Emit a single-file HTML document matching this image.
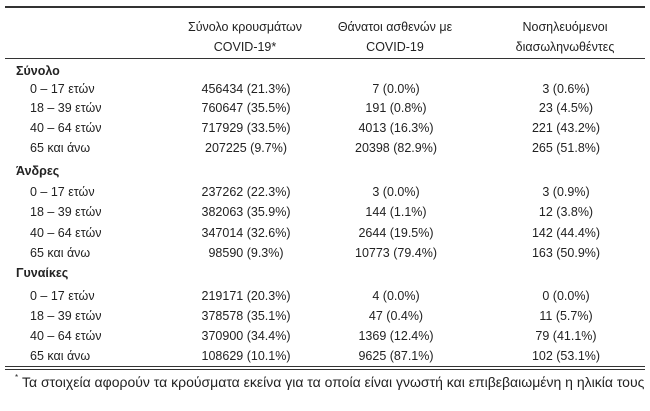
<!DOCTYPE html>
<html><head><meta charset="utf-8"><style>
body{margin:0;width:650px;height:411px;background:#fff;font-family:"Liberation Sans","DejaVu Sans",sans-serif;color:#222;position:relative;overflow:hidden}
.t{position:absolute;font-size:12.5px;white-space:nowrap;line-height:14px}
.c{transform:translateX(-50%);text-align:center}
.b{font-weight:bold}
.ln{position:absolute;left:5px;width:640px;background:#333}
</style></head><body>
<div class="ln" style="top:6px;height:2px"></div>
<div class="t c" style="left:245px;top:17px;line-height:20px">Σύνολο κρουσμάτων<br>COVID-19*</div>
<div class="t c" style="left:395px;top:17px;line-height:20px">Θάνατοι ασθενών με<br>COVID-19</div>
<div class="t c" style="left:565px;top:17px;line-height:20px">Νοσηλευόμενοι<br>διασωληνωθέντες</div>
<div class="ln" style="top:58px;height:1px"></div>

<div class="t b" style="left:16px;top:64px">Σύνολο</div>
<div class="t" style="left:30px;top:82px">0 – 17 ετών</div><div class="t c" style="left:246px;top:82px">456434 (21.3%)</div><div class="t c" style="left:396px;top:82px">7 (0.0%)</div><div class="t c" style="left:566px;top:82px">3 (0.6%)</div>
<div class="t" style="left:30px;top:101px">18 – 39 ετών</div><div class="t c" style="left:246px;top:101px">760647 (35.5%)</div><div class="t c" style="left:396px;top:101px">191 (0.8%)</div><div class="t c" style="left:566px;top:101px">23 (4.5%)</div>
<div class="t" style="left:30px;top:121px">40 – 64 ετών</div><div class="t c" style="left:246px;top:121px">717929 (33.5%)</div><div class="t c" style="left:396px;top:121px">4013 (16.3%)</div><div class="t c" style="left:566px;top:121px">221 (43.2%)</div>
<div class="t" style="left:30px;top:141px">65 και άνω</div><div class="t c" style="left:246px;top:141px">207225 (9.7%)</div><div class="t c" style="left:396px;top:141px">20398 (82.9%)</div><div class="t c" style="left:566px;top:141px">265 (51.8%)</div>

<div class="t b" style="left:16px;top:164px">Άνδρες</div>
<div class="t" style="left:30px;top:185px">0 – 17 ετών</div><div class="t c" style="left:246px;top:185px">237262 (22.3%)</div><div class="t c" style="left:396px;top:185px">3 (0.0%)</div><div class="t c" style="left:566px;top:185px">3 (0.9%)</div>
<div class="t" style="left:30px;top:205px">18 – 39 ετών</div><div class="t c" style="left:246px;top:205px">382063 (35.9%)</div><div class="t c" style="left:396px;top:205px">144 (1.1%)</div><div class="t c" style="left:566px;top:205px">12 (3.8%)</div>
<div class="t" style="left:30px;top:226px">40 – 64 ετών</div><div class="t c" style="left:246px;top:226px">347014 (32.6%)</div><div class="t c" style="left:396px;top:226px">2644 (19.5%)</div><div class="t c" style="left:566px;top:226px">142 (44.4%)</div>
<div class="t" style="left:30px;top:246px">65 και άνω</div><div class="t c" style="left:246px;top:246px">98590 (9.3%)</div><div class="t c" style="left:396px;top:246px">10773 (79.4%)</div><div class="t c" style="left:566px;top:246px">163 (50.9%)</div>

<div class="t b" style="left:16px;top:266px">Γυναίκες</div>
<div class="t" style="left:30px;top:289px">0 – 17 ετών</div><div class="t c" style="left:246px;top:289px">219171 (20.3%)</div><div class="t c" style="left:396px;top:289px">4 (0.0%)</div><div class="t c" style="left:566px;top:289px">0 (0.0%)</div>
<div class="t" style="left:30px;top:309px">18 – 39 ετών</div><div class="t c" style="left:246px;top:309px">378578 (35.1%)</div><div class="t c" style="left:396px;top:309px">47 (0.4%)</div><div class="t c" style="left:566px;top:309px">11 (5.7%)</div>
<div class="t" style="left:30px;top:329px">40 – 64 ετών</div><div class="t c" style="left:246px;top:329px">370900 (34.4%)</div><div class="t c" style="left:396px;top:329px">1369 (12.4%)</div><div class="t c" style="left:566px;top:329px">79 (41.1%)</div>
<div class="t" style="left:30px;top:349px">65 και άνω</div><div class="t c" style="left:246px;top:349px">108629 (10.1%)</div><div class="t c" style="left:396px;top:349px">9625 (87.1%)</div><div class="t c" style="left:566px;top:349px">102 (53.1%)</div>

<div class="ln" style="top:366px;height:1px"></div>
<div class="ln" style="top:369px;height:1px"></div>
<div class="t" style="left:15px;top:371px;font-size:8px">*</div>
<div class="t" style="left:22px;top:374px;font-size:14px;line-height:16px">Τα στοιχεία αφορούν τα κρούσματα εκείνα για τα οποία είναι γνωστή και επιβεβαιωμένη η ηλικία τους</div>
</body></html>
